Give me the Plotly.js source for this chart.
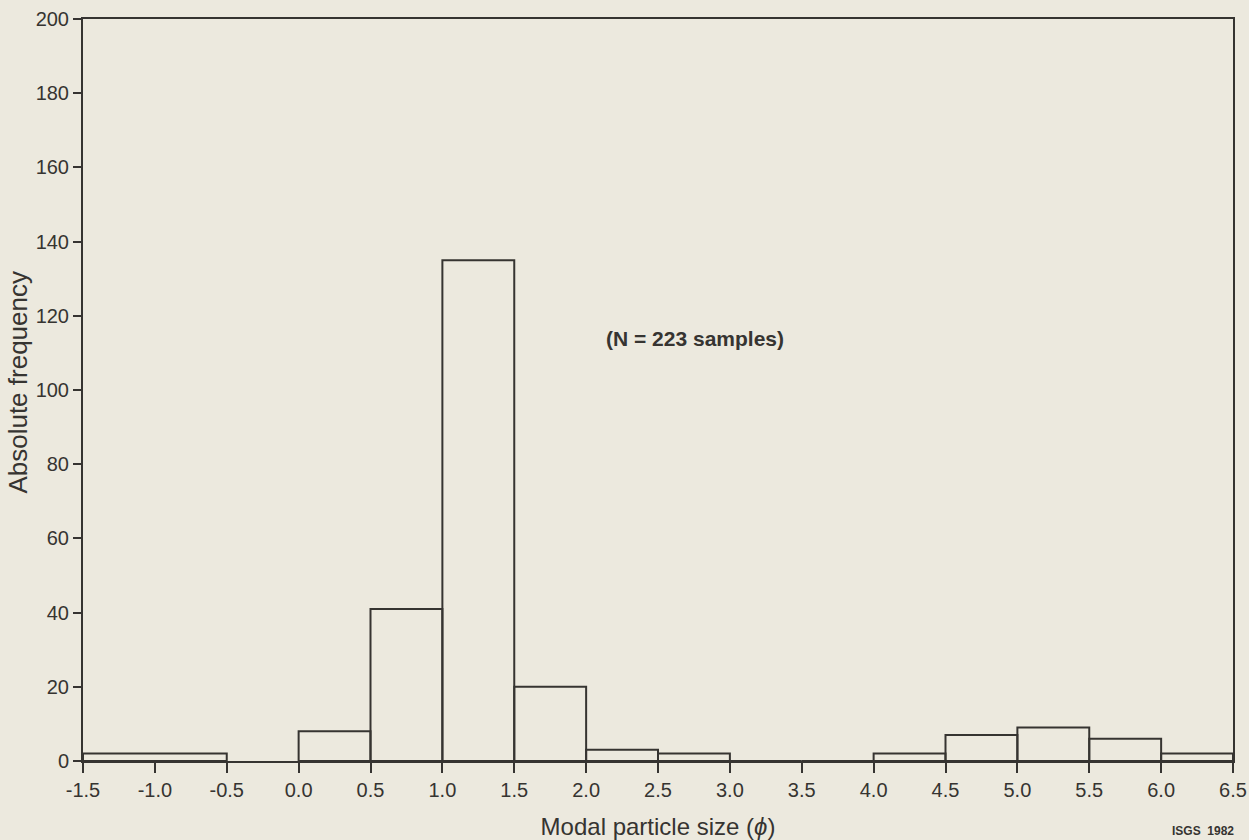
<!DOCTYPE html>
<html>
<head>
<meta charset="utf-8">
<script src="https://cdn.plot.ly/plotly-3.0.1.min.js"></script>
<style>
html,body{margin:0;padding:0;background:#ece9de;}
#chart{width:1249px;height:840px;}
</style>
</head>
<body>
<div id="chart"></div>
<script>
// Bin edges (phi) and absolute frequencies
const binLeft  = [-1.5, 0.0, 0.5, 1.0, 1.5, 2.0, 2.5, 3.0, 3.5, 4.0, 4.5, 5.0, 5.5, 6.0];
const binRight = [-0.5, 0.5, 1.0, 1.5, 2.0, 2.5, 3.0, 3.5, 4.0, 4.5, 5.0, 5.5, 6.0, 6.5];
const frequency = [2, 8, 41, 135, 20, 3, 2, 0, 0, 2, 7, 9, 6, 2];

const xTickVals = [-1.5, -1.0, -0.5, 0.0, 0.5, 1.0, 1.5, 2.0, 2.5, 3.0, 3.5, 4.0, 4.5, 5.0, 5.5, 6.0, 6.5];
const xTickText = ["-1.5", "-1.0", "-0.5", "0.0", "0.5", "1.0", "1.5", "2.0", "2.5", "3.0", "3.5", "4.0", "4.5", "5.0", "5.5", "6.0", "6.5"];
const yTickVals = [0, 20, 40, 60, 80, 100, 120, 140, 160, 180, 200];

const centers = binLeft.map((l, i) => (l + binRight[i]) / 2);
const widths = binLeft.map((l, i) => binRight[i] - l);

const ink = '#363431';
const bg = '#ece9de';
const font = 'Liberation Sans, Arial, sans-serif';

const trace = {
  type: 'bar',
  x: centers,
  y: frequency,
  width: widths,
  marker: {color: 'rgba(0,0,0,0)', line: {color: ink, width: 2}},
  hoverinfo: 'x+y',
  showlegend: false
};

const layout = {
  width: 1249,
  height: 840,
  paper_bgcolor: bg,
  plot_bgcolor: bg,
  margin: {l: 83, r: 16, t: 19, b: 79},
  font: {family: font, color: ink, size: 20},
  xaxis: {
    range: [-1.5, 6.5],
    tickvals: xTickVals,
    ticktext: xTickText,
    ticks: 'outside',
    ticklen: 10,
    tickwidth: 2,
    tickcolor: ink,
    showline: true,
    linecolor: ink,
    linewidth: 2,
    mirror: true,
    showgrid: false,
    zeroline: false,
    tickfont: {size: 20, color: ink},
    title: {text: 'Modal particle size (<i>ϕ</i>)', font: {size: 24, color: ink}, standoff: 24}
  },
  yaxis: {
    range: [0, 200],
    tickvals: yTickVals,
    ticks: 'outside',
    ticklen: 8,
    tickwidth: 2,
    tickcolor: ink,
    showline: true,
    linecolor: ink,
    linewidth: 2,
    mirror: true,
    showgrid: false,
    zeroline: false,
    tickfont: {size: 20, color: ink}
  },
  annotations: [
    {
      xref: 'paper', yref: 'paper', x: -0.0565, y: 0.51,
      xanchor: 'center', yanchor: 'middle',
      text: 'Absolute frequency',
      textangle: -90,
      showarrow: false,
      font: {size: 26, color: ink}
    },
    {
      xref: 'x', yref: 'y', x: 2.76, y: 114,
      text: '<b>(N = 223 samples)</b>',
      showarrow: false,
      font: {size: 21, color: ink}
    },
    {
      xref: 'paper', yref: 'paper', x: 1.003, y: -0.0943,
      xanchor: 'right', yanchor: 'middle',
      text: '<b>ISGS  1982</b>',
      showarrow: false,
      font: {size: 12, color: ink}
    }
  ]
};

Plotly.newPlot('chart', [trace], layout, {displayModeBar: false, staticPlot: true});
</script>
</body>
</html>
